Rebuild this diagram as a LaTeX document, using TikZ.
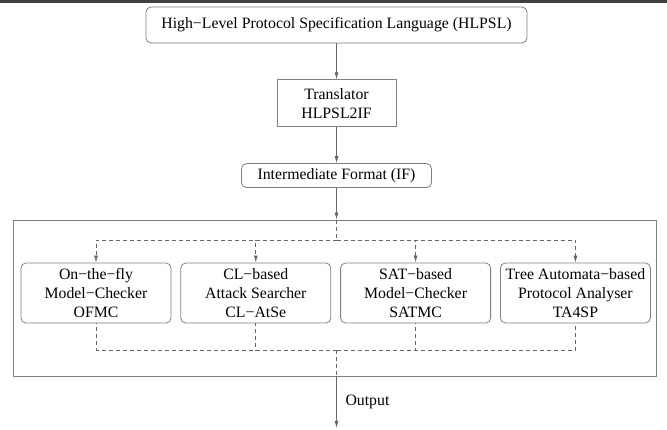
\documentclass[tikz,border=0pt]{standalone}
\usepackage{fontspec}
\setmainfont{Liberation Serif}
\usetikzlibrary{arrows.meta,positioning,calc}
\tikzset{
  block/.style  = {draw=black!50, line width=0.8pt, rectangle,
                   align=center, inner sep=2pt},
  rblock/.style = {block, rounded corners=5pt},
  tool/.style   = {rblock, minimum width=150pt, minimum height=60pt},
  sig/.style    = {-{Latex[length=7pt,width=4pt]}, line width=0.8pt, draw=black!60},
  dline/.style  = {line width=0.8pt, draw=black!60, dash pattern=on 4pt off 3pt},
  dsig/.style   = {sig, dash pattern=on 4pt off 3pt},
}
\begin{document}
\begin{tikzpicture}[x=1pt, y=1pt, node distance=36pt,
   font=\fontsize{15.8}{19}\selectfont]
\useasboundingbox (0,0) rectangle (667,430);
\draw[line width=2.5pt, black!75] (0,428.7) -- (667,428.7);
\node[rblock, minimum width=381pt, minimum height=36pt] (hl) at (336.5,405)
  {High−Level Protocol Specification Language (HLPSL)};
\node[block, below=of hl, minimum width=119pt, minimum height=47pt] (tr)
  {Translator\\HLPSL2IF};
\node[rblock, below=of tr, minimum width=190pt, minimum height=24pt] (imf)
  {Intermediate Format (IF)};
\node[block, minimum width=643pt, minimum height=156pt] (tools) at (334.5,132) {};
\node[tool] (ofmc) at (96,137) {On−the−fly\\Model−Checker\\OFMC};
\node[tool, right=9pt of ofmc] (clat) {CL−based\\Attack Searcher\\CL−AtSe};
\node[tool, right=9pt of clat] (sat) {SAT−based\\Model−Checker\\SATMC};
\node[tool, right=9pt of sat] (ta) {Tree Automata−based\\Protocol Analyser\\TA4SP};
\coordinate (split) at (imf.south |- 0,190);
\coordinate (merge) at (imf.south |- 0,80);
\coordinate (out) at (imf.south |- 0,2);
\node[anchor=west] (outlbl) at (342,28) {Output};
\draw[sig] (hl) -- (tr);
\draw[sig] (tr) -- (imf);
\draw[sig] (imf) -- (imf.south |- tools.north);
\draw[dline] (imf.south |- tools.north) -- (split);
\draw[dsig] (split) -| (ofmc);
\draw[dsig] (split) -| (clat);
\draw[dsig] (split) -| (sat);
\draw[dsig] (split) -| (ta);
\draw[dline] (merge) -| (ofmc);
\draw[dline] (merge) -| (clat);
\draw[dline] (merge) -| (sat);
\draw[dline] (merge) -| (ta);
\draw[dline] (merge) -- (merge |- tools.south);
\draw[sig] (merge |- tools.south) -- (out);
\end{tikzpicture}
\end{document}
